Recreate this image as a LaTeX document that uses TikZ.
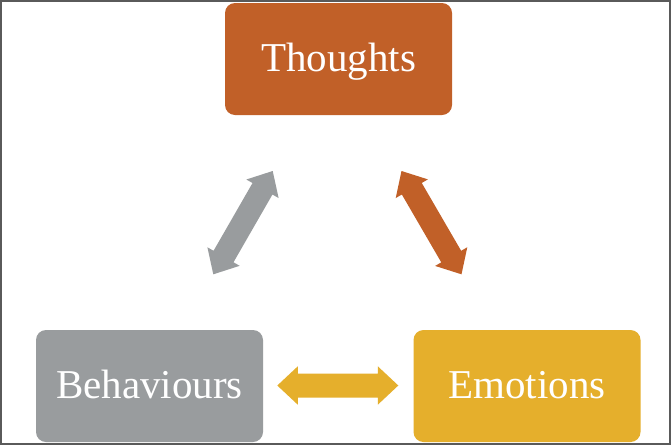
\documentclass[tikz,border=0pt]{standalone}
\usepackage{fontspec}
\setmainfont{Liberation Serif}
\usetikzlibrary{calc}
\definecolor{cOrange}{RGB}{193,96,40}
\definecolor{cGray}{RGB}{153,156,158}
\definecolor{cYellow}{RGB}{229,175,44}
\definecolor{cFrame}{RGB}{90,90,90}
\newcommand\dblarrow[5]{% from, to, color, shaft half-width, head half-width
  \path (#1) coordinate (aa) (#2) coordinate (bb);
  \path ($(aa)!20.5pt!(bb)$) coordinate (pa) ($(bb)!20.5pt!(aa)$) coordinate (pb);
  \fill[#3] (aa) -- ($(pa)!#5!90:(bb)$) -- ($(pa)!#4!90:(bb)$) -- ($(pb)!#4!-90:(aa)$) -- ($(pb)!#5!-90:(aa)$) -- (bb)
    -- ($(pb)!#5!90:(aa)$) -- ($(pb)!#4!90:(aa)$) -- ($(pa)!#4!-90:(bb)$) -- ($(pa)!#5!-90:(bb)$) -- cycle;
}
\tikzset{
  box/.style={rounded corners=10pt, minimum width=227pt, minimum height=112pt,
    text=white, font=\fontsize{41}{41}\selectfont, text height=28pt, text depth=3pt, inner sep=0pt}
}
\begin{document}
\begin{tikzpicture}[x=1pt,y=-1pt]
  \useasboundingbox (0,0) rectangle (671,445);
  \fill[white] (0,0) rectangle (671,445);
  \draw[cFrame, line width=2pt] (1,1) rectangle (670,444);
  \node[box, fill=cOrange] (thoughts) at (338.5,59) {Thoughts};
  \node[box, fill=cGray] (behav) at (149.5,386) {Behaviours};
  \node[box, fill=cYellow] (emot) at (527,386) {Emotions};
  \coordinate (g1) at (272.7,171);
  \coordinate (g2) at (213.3,274.3);
  \coordinate (o1) at (401.5,171);
  \coordinate (o2) at (461.5,274.3);
  \coordinate (y1) at (277.3,385.5);
  \coordinate (y2) at (398.3,385.5);
  \dblarrow{g1}{g2}{cGray}{11.5pt}{18.6pt}
  \dblarrow{o1}{o2}{cOrange}{11.5pt}{18.6pt}
  \dblarrow{y1}{y2}{cYellow}{12pt}{19.2pt}
\end{tikzpicture}
\end{document}
